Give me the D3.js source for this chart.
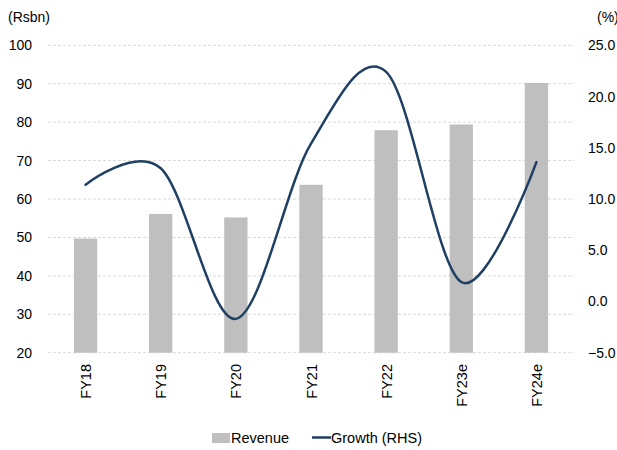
<!DOCTYPE html>
<html>
<head>
<meta charset="utf-8">
<script src="https://cdn.jsdelivr.net/npm/d3@7"></script>
<style>
  html, body { margin: 0; padding: 0; background: #fff; }
  svg { display: block; font-family: "Liberation Sans", Arial, sans-serif; }
</style>
</head>
<body>
<svg id="chart" width="617" height="450"></svg>
<script>
// Revenue (Rsbn) and YoY growth (%)
const categories = ["FY18", "FY19", "FY20", "FY21", "FY22", "FY23e", "FY24e"];
const revenue = [49.7, 56.1, 55.2, 63.7, 77.9, 79.4, 90.2];
const growth = [11.4, 13.0, -1.7, 15.4, 22.4, 1.9, 13.6];
const leftTicks = [20, 30, 40, 50, 60, 70, 80, 90, 100];
const rightTicks = [-5, 0, 5, 10, 15, 20, 25];

const svg = d3.select("#chart");
const plot = { left: 48, right: 574, top: 45.3, bottom: 352.7 };

const x = d3.scaleBand().domain(categories).range([plot.left, plot.right]).paddingInner(0.69).paddingOuter(0.345);
const yL = d3.scaleLinear().domain([20, 100]).range([plot.bottom, plot.top]);
const yR = d3.scaleLinear().domain([-5, 25]).range([plot.bottom, plot.top]);

// gridlines from the left axis
svg.append("g").selectAll("line").data(leftTicks).join("line")
  .attr("x1", plot.left).attr("x2", plot.right)
  .attr("y1", d => yL(d)).attr("y2", d => yL(d))
  .attr("stroke", "#d9d9d9").attr("stroke-width", 1).attr("stroke-dasharray", "3,2");

// left axis labels
const axisL = d3.axisLeft(yL).tickValues(leftTicks).tickSize(0).tickPadding(0);
const gL = svg.append("g").attr("transform", `translate(32,0)`).call(axisL);
gL.select(".domain").remove();
gL.selectAll("text").attr("font-size", 14).attr("fill", "#000").attr("font-family", "Liberation Sans, Arial, sans-serif");

// right axis labels
const axisR = d3.axisRight(yR).tickValues(rightTicks).tickSize(0).tickPadding(0).tickFormat(d3.format(".1f"));
const gR = svg.append("g").attr("transform", `translate(588,0)`).call(axisR);
gR.select(".domain").remove();
gR.selectAll("text").attr("font-size", 14).attr("fill", "#000").attr("font-family", "Liberation Sans, Arial, sans-serif");

// unit labels
svg.append("text").attr("x", 8).attr("y", 22).attr("font-size", 14).text("(Rsbn)");
svg.append("text").attr("x", 597).attr("y", 22).attr("font-size", 14).text("(%)");

// revenue bars
svg.append("g").selectAll("rect").data(revenue).join("rect")
  .attr("x", (d, i) => x(categories[i]))
  .attr("width", x.bandwidth())
  .attr("y", d => yL(d))
  .attr("height", d => yL(20) - yL(d))
  .attr("fill", "#bfbfbf");

// growth line (smoothed)
const line = d3.line()
  .x((d, i) => x(categories[i]) + x.bandwidth() / 2)
  .y(d => yR(d))
  .curve(d3.curveCardinal.tension(0));
svg.append("path").datum(growth)
  .attr("d", line)
  .attr("fill", "none")
  .attr("stroke", "#203f64")
  .attr("stroke-width", 2.5)
  .attr("stroke-linecap", "round");

// category labels, rotated
svg.append("g").selectAll("text").data(categories).join("text")
  .attr("transform", d => `translate(${x(d) + x.bandwidth() / 2 + 5.5},364) rotate(-90)`)
  .attr("text-anchor", "end")
  .attr("font-size", 14.5)
  .text(d => d);

// legend
const lg = svg.append("g");
lg.append("rect").attr("x", 212).attr("y", 433).attr("width", 18).attr("height", 10).attr("fill", "#bfbfbf");
lg.append("text").attr("x", 231).attr("y", 443).attr("font-size", 14.5).text("Revenue");
lg.append("line").attr("x1", 312).attr("x2", 331).attr("y1", 437.5).attr("y2", 437.5)
  .attr("stroke", "#203f64").attr("stroke-width", 2.5);
lg.append("text").attr("x", 331).attr("y", 443).attr("font-size", 14.5).text("Growth (RHS)");
</script>
</body>
</html>
